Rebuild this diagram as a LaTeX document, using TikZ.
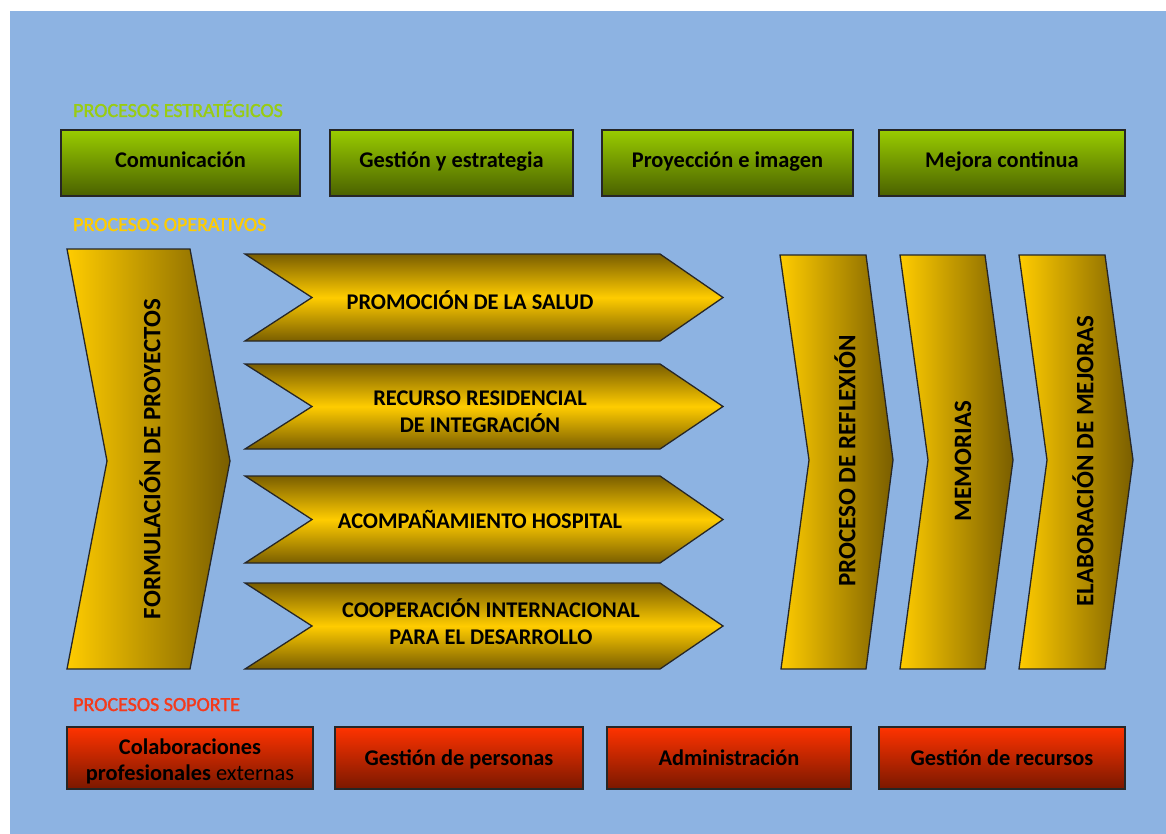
\documentclass[tikz,border=0pt]{standalone}
\usepackage{fontspec}
\setmainfont{Carlito}
\newfontfamily\lblfont[FakeBold=1.5]{Carlito}
\definecolor{bgblue}{HTML}{8DB3E2}
\definecolor{gtop}{HTML}{99CC00}
\definecolor{gbot}{HTML}{4A6100}
\definecolor{rtop}{HTML}{FF3300}
\definecolor{rbot}{HTML}{7A1800}
\definecolor{ylite}{HTML}{FFCC00}
\definecolor{ydark}{HTML}{7A5E00}
\definecolor{lblgreen}{HTML}{99CC11}
\definecolor{lblyellow}{HTML}{FFCC00}
\definecolor{lblred}{HTML}{F43A1C}
\begin{document}
\begin{tikzpicture}[x=1pt,y=-1pt,
  edge/.style={draw=black!85,line width=1.3pt,line join=miter},
  greenbox/.style={edge,top color=gtop,bottom color=gbot},
  redbox/.style={edge,top color=rtop,bottom color=rbot},
  harrow/.style={edge,top color=ydark,bottom color=ydark,middle color=ylite},
  varrow/.style={edge,left color=ylite,right color=ydark},
  boxtxt/.style={font=\fontsize{22.4}{26}\selectfont\bfseries,align=center,text=black,anchor=base},
  arrtxt/.style={font=\fontsize{22.4}{27}\selectfont\bfseries,align=center,text=black,anchor=base},
  vtxt/.style={font=\fontsize{25}{30}\selectfont\bfseries,rotate=90,text=black},
  lbl/.style={font=\fontsize{20}{24}\lblfont,anchor=base west,inner sep=0pt}]
\useasboundingbox (0,0) rectangle (1166,834);
\fill[white] (0,0) rectangle (1166,834);
\fill[bgblue] (10,11) rectangle (1166,834);

% section labels
\node[lbl,text=lblgreen] (lstrat) at (73,117) {PROCESOS ESTRATÉGICOS};
\node[lbl,text=lblyellow] (loper) at (73,231) {PROCESOS OPERATIVOS};
\node[lbl,text=lblred] (lsop) at (73,711) {PROCESOS SOPORTE};

% strategic boxes
\path[greenbox] (61,130) rectangle (300,196);
\node[boxtxt] (s1) at (180.5,168) {Comunicación};
\path[greenbox] (330,130) rectangle (573,196);
\node[boxtxt] (s2) at (451.5,168) {Gestión y estrategia};
\path[greenbox] (602,130) rectangle (853,196);
\node[boxtxt] (s3) at (727.5,168) {Proyección e imagen};
\path[greenbox] (879,130) rectangle (1125,196);
\node[boxtxt] (s4) at (1002,168) {Mejora continua};

% support boxes
\path[redbox] (67,727) rectangle (313,789);
\node[boxtxt] (p1) at (190,780) {Colaboraciones\\profesionales {\mdseries externas}};
\path[redbox] (335,727) rectangle (583,789);
\node[boxtxt] (p2) at (459,765) {Gestión de personas};
\path[redbox] (607,727) rectangle (851,789);
\node[boxtxt] (p3) at (729,765) {Administración};
\path[redbox] (879,727) rectangle (1125,789);
\node[boxtxt] (p4) at (1002,765) {Gestión de recursos};

% left vertical chevron
\path[varrow] (67,249) -- (190,249) -- (230,461) -- (190,669) -- (67,669) -- (107,461) -- cycle;
\node[vtxt] (vf) at (150,459) {FORMULACIÓN DE PROYECTOS};

% horizontal arrows
\path[harrow] (245,254) -- (660,254) -- (723,297.5) -- (660,341) -- (245,341) -- (312,297.5) -- cycle;
\node[arrtxt] (h1) at (470,309) {PROMOCIÓN DE LA SALUD};
\path[harrow] (245,364) -- (660,364) -- (723,406.5) -- (660,449) -- (245,449) -- (312,406.5) -- cycle;
\node[arrtxt] (h2) at (480,432) {RECURSO RESIDENCIAL\\DE INTEGRACIÓN};
\path[harrow] (245,476) -- (660,476) -- (723,519.5) -- (660,563) -- (245,563) -- (312,519.5) -- cycle;
\node[arrtxt] (h3) at (480,528) {ACOMPAÑAMIENTO HOSPITAL};
\path[harrow] (245,583) -- (660,583) -- (723,626) -- (660,669) -- (245,669) -- (312,626) -- cycle;
\node[arrtxt] (h4) at (491,644) {COOPERACIÓN INTERNACIONAL\\PARA EL DESARROLLO};

% right vertical chevrons
\path[varrow] (780,255) -- (866,255) -- (893,460) -- (866,669) -- (781,669) -- (809,460) -- cycle;
\node[vtxt] (vr) at (845,461) {PROCESO DE REFLEXIÓN};
\path[varrow] (900,255) -- (985,255) -- (1013,460) -- (985,669) -- (900,669) -- (928,460) -- cycle;
\node[vtxt] (vm) at (963,461) {MEMORIAS};
\path[varrow] (1019,255) -- (1105,255) -- (1133,460) -- (1105,669) -- (1019,669) -- (1047,460) -- cycle;
\node[vtxt] (ve) at (1083,461) {ELABORACIÓN DE MEJORAS};
\end{tikzpicture}
\end{document}
